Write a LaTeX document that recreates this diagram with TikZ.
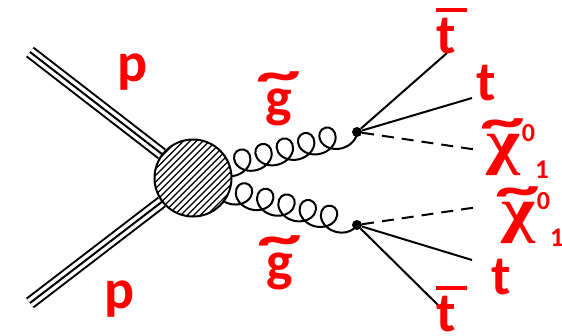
\documentclass[tikz,border=0pt]{standalone}
\usepackage{fontspec}
\setmainfont{Carlito}
\newfontfamily\grkfont{Liberation Serif}
\usetikzlibrary{decorations.pathmorphing,calc,backgrounds}

\newcommand{\tld}[2]{\leavevmode\ooalign{#2\cr\hidewidth\raisebox{#1}{\scalebox{1.6}[1]{\textasciitilde}}\hidewidth\cr}}
\newcommand{\tbar}{\makebox[0pt][l]{\rule[0.74em]{0.55em}{0.06em}}t}
\newcommand{\chilabel}{\tld{0.4em}{\scalebox{1.3}[1.1]{\grkfont χ}}\kern2pt\raisebox{21pt}{\fontsize{26}{26}\selectfont 0}\raisebox{-16pt}{\fontsize{27}{27}\selectfont 1}}

\begin{document}
\begin{tikzpicture}[x=1pt, y=-1pt,
  lbl/.style={text=red, font=\bfseries\fontsize{56}{56}\selectfont, inner sep=0pt},
  quark/.style={line width=2pt},
  proton/.style={line width=2pt, double distance=9pt},
  gluon/.style={line width=2pt, decorate,
    decoration={coil, amplitude=12pt, segment length=22pt, aspect=1.1}},
  neutralino/.style={line width=2pt, dash pattern=on 12pt off 8pt},
  vtx/.style={circle, fill, inner sep=0pt, minimum size=10pt},
  blob/.style={circle, draw, line width=2pt, fill=white, minimum size=77pt,
    path picture={
      \foreach \k in {-66,-59.5,...,66}
        \draw[line width=1.3pt] ([xshift=\k pt]path picture bounding box.center)
          ++(-45,45) -- ++(90,-90);
    }}]
\useasboundingbox (0,0) rectangle (562,335);

\node[blob] (blob) at (193,178) {};
\node[vtx] (v1) at (357,132) {};
\node[vtx] (v2) at (357,225) {};

\begin{scope}[on background layer]
% incoming protons
\coordinate (pa) at (30,52);
\coordinate (pb) at (30,303);
\draw[proton] (pa) -- (blob);
\draw[quark] (pa) -- (blob);
\draw[proton] (pb) -- (blob);
\draw[quark] (pb) -- (blob);
% gluinos
\draw[gluon] (v1.center) -- ($(v1)!1.25!(blob.20)$);
\draw[gluon] (v2.center) -- ($(v2)!1.25!(blob.-20)$);
\end{scope}

\coordinate (tb1) at (447,53);
\coordinate (t1) at (472,98);
\coordinate (x1) at (478,150);
\coordinate (x2) at (478,207);
\coordinate (t2) at (472,260);
\coordinate (tb2) at (438,305);
\draw[quark] (v1) -- (tb1);
\draw[quark] (v1) -- (t1);
\draw[neutralino] (v1) -- (x1);
\draw[neutralino] (v2) -- (x2);
\draw[quark] (v2) -- (t2);
\draw[quark] (v2) -- (tb2);

% labels
\node[lbl, anchor=base] (lp1) at (133,81) {p};
\node[lbl, anchor=base] (lp2) at (120,308) {p};
\node[lbl, anchor=base] (lg1) at (279,116) {\tld{0.42em}{g}};
\node[lbl, anchor=base] (lg2) at (280,280) {\tld{0.42em}{g}};
\node[lbl, anchor=base west] (ltb1) at (436,53) {\tbar};
\node[lbl, anchor=base west] (lt1) at (476,100) {t};
\node[lbl, anchor=base west] (lx1) at (486,162) {\chilabel};
\node[lbl, anchor=base west] (lx2) at (501,230) {\chilabel};
\node[lbl, anchor=base west] (lt2) at (491,294) {t};
\node[lbl, anchor=base west] (ltb2) at (436,331) {\tbar};
\end{tikzpicture}
\end{document}
